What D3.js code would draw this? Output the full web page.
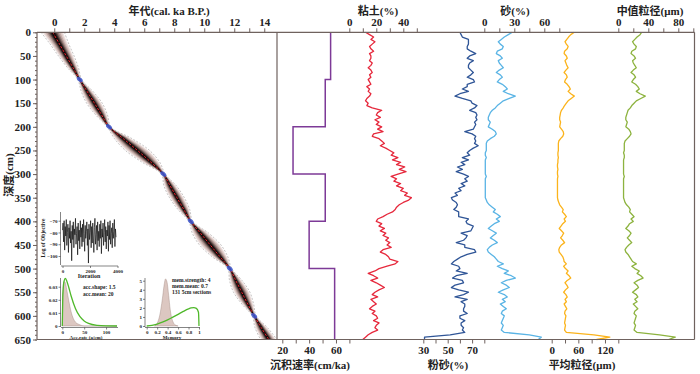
<!DOCTYPE html>
<html><head><meta charset="utf-8">
<script src="https://cdn.jsdelivr.net/npm/d3@7"></script>
<style>
body{margin:0;background:#fff}
svg{display:block}
text{font-family:"Liberation Serif","Noto Sans CJK SC",serif;font-weight:bold;fill:#222}
</style>
</head><body><svg id="c" width="700" height="374"></svg>
<script>
// ---------- DATA ----------
const depths = d3.range(0, 651, 5); // sample depths (cm), 131 sections

const clay = [12,15,18,16,19,17,15,16,18,15,16,16,15,17,16,14,16,17,15,16,14,15,16,13,15,14,16,15,13,12,14,13,17,24,21,20,23,19,22,20,24,21,25,18,17,22,24,26,23,27,30,33,31,36,32,38,35,41,37,42,36,31,35,33,38,35,40,38,43,41,46,44,40,37,35,34,32,28,25,21,20,24,22,26,23,27,25,29,27,30,28,31,25,23,27,29,30,36,34,28,22,19,14,18,21,16,20,23,26,22,19,17,21,16,18,20,17,15,19,17,20,21,18,22,20,19,21,17,14,12,10];

const sand = [28,24,20,17,14,16,19,18,13,12,16,18,14,15,17,19,15,12,16,18,15,13,18,21,23,19,24,31,25,19,16,13,11,8,6,5,4,4,6,5,4,8,11,12,10,6,3,2,2,2,2,1,1,2,1,1,1,1,1,1,1,2,1,1,1,1,1,1,1,1,1,2,3,5,8,11,9,13,16,12,15,10,7,4,8,12,9,6,10,13,8,5,3,4,7,10,12,14,19,13,18,24,20,27,31,22,17,22,25,19,14,20,23,18,21,16,19,22,18,17,20,19,18,17,19,18,17,20,45,57,54];

const silt = [60,61,62,67,67,67,66,66,69,73,68,66,71,68,67,67,69,71,69,66,71,72,66,66,62,67,60,56,62,69,70,74,72,68,73,74,73,74,72,73,72,71,64,70,73,72,73,72,75,71,68,66,68,62,67,61,64,58,62,57,63,67,64,66,61,64,59,61,56,58,53,54,57,58,57,55,59,59,59,67,65,66,71,70,69,61,66,65,63,57,64,64,72,73,66,61,58,55,53,59,60,57,66,57,54,62,63,56,53,59,67,63,56,66,61,64,64,63,63,66,60,60,64,61,61,63,62,64,52,31,31];

const meanSize = [51,43,38,34,30,33,37,35,29,28,33,35,30,32,34,37,32,28,33,35,31,29,35,39,42,37,43,51,44,37,33,29,26,22,20,19,18,18,20,19,18,22,26,27,25,20,16,15,15,15,15,14,14,15,14,14,13,13,14,13,13,14,13,13,13,13,13,13,13,13,13,14,16,18,22,26,24,29,33,28,31,25,21,17,22,27,24,20,25,29,22,18,16,17,21,25,27,28,33,27,31,37,33,39,43,35,30,34,37,31,27,32,35,30,33,28,31,34,30,29,32,31,30,29,31,30,29,33,95,131,101];

const medianSize = [31,29,25,22,19,21,24,23,18,17,21,23,19,20,22,24,20,17,21,23,20,18,23,26,28,24,29,36,30,24,21,18,16,13,12,11,10,10,12,11,10,14,16,17,15,12,9,8,8,8,8,7,8,8,7,7,7,7,7,7,7,8,7,7,7,7,7,7,7,7,7,8,9,11,14,16,15,18,21,17,20,15,13,10,14,17,15,12,15,18,14,11,9,10,13,15,17,19,24,18,22,28,25,30,33,26,21,25,27,23,19,24,26,22,25,20,23,26,22,21,24,23,22,21,23,22,21,25,55,76,67];

// sedimentation rate (cm/ka), step intervals
const sedTop = [0,100,200,300,400,500];
const sedBottom = [100,200,300,400,500,650];
const sedRate = [56,52,28,52,40,59];

// age-depth model
const ageDepth = [0,25,50,75,100,125,150,175,200,225,250,275,300,325,350,375,400,425,450,475,500,525,550,575,600,625,650];
const ageMedian = [-0.1,0.35,0.8,1.25,1.7,2.19,2.68,3.16,3.65,4.6,5.55,6.45,7.27,7.73,8.18,8.64,9.1,9.75,10.4,11.05,11.7,12.1,12.5,12.9,13.33,13.8,14.3];
const ageHalf = [0.6,0.48,0.4,0.28,0.1,0.3,0.4,0.3,0.1,0.45,0.62,0.45,0.1,0.32,0.38,0.3,0.1,0.42,0.55,0.4,0.1,0.32,0.42,0.3,0.1,0.32,0.42];
const dateDepth = [100,200,300,400,500,600];
const dateAge = [1.7,3.65,7.27,9.1,11.7,13.33];

// tick labels
const ageTicks = [0,2,4,6,8,10,12,14];
const depthTicks = [0,50,100,150,200,250,300,350,400,450,500,550,600,650];

// inset: MCMC trace (log of objective)
const trace = [-78,-72,-88,-70,-95,-75,-83,-69,-91,-80,-73,-97,-76,-85,-70,-89,-79,-104,-74,-86,-71,-93,-77,-82,-68,-90,-81,-75,-99,-72,-87,-78,-94,-70,-84,-76,-92,-73,-88,-69,-81,-96,-74,-85,-79,-71,-91,-77,-106,-73,-86,-80,-70,-93,-75,-89,-72,-83,-97,-76,-68,-90,-82,-74,-95,-71,-87,-79,-92,-73,-85,-70,-98,-77,-84,-72,-91,-80,-69,-88,-75,-94,-78,-83,-71,-96,-74,-86,-70,-90,-81,-76,-93,-72,-85,-79,-69,-92,-77,-84];
// inset: accumulation rate prior / posterior
const accX = [0,1,2,4,7,10,15,20,30,40,50,60,80,100,125];
const accPrior = [0,0.0215,0.0282,0.0343,0.0363,0.0346,0.0292,0.0231,0.0134,0.0073,0.0039,0.002,0.0005,0.0001,0];
const accPost = [0,0.02,0.03,0.034,0.033,0.028,0.019,0.011,0.003,0.001,0,0,0,0,0];
// inset: memory prior / posterior
const memX = [0,0.1,0.2,0.3,0.4,0.5,0.6,0.7,0.8,0.85,0.9,0.95,0.99,1];
const memPrior = [0,0.06,0.21,0.42,0.68,0.98,1.29,1.61,1.89,1.99,2.03,1.95,1.52,0];
const memPostX = [0.15,0.2,0.25,0.3,0.33,0.36,0.39,0.42,0.45,0.5,0.55,0.6];
const memPost = [0,0.3,1.2,3.0,4.4,5.2,4.8,3.4,1.8,0.5,0.1,0];

// ---------- DRAW ----------
const svg = d3.select("#c");
const frame = "#6f625e";
const TOP = 32.3, BOT = 339.5, L = 37, MID = 277, R = 694.5;
const y = d3.scaleLinear().domain([0,650]).range([TOP,BOT]);

const ageX = d3.scaleLinear().domain([-1.15,14.85]).range([L,MID]);
const sedX = d3.scaleLinear().domain([20,70]).range([282.3,349.4]);
const clayX = d3.scaleLinear().domain([0,50]).range([349.3,416.8]);
const siltX = d3.scaleLinear().domain([30,80]).range([423.3,484.3]);
const sandX = d3.scaleLinear().domain([0,75]).range([484.3,559.3]);
const meanX = d3.scaleLinear().domain([0,150]).range([551.7,618.3]);
const medX = d3.scaleLinear().domain([0,100]).range([618.3,693.3]);

svg.append("defs").append("clipPath").attr("id","lp")
  .append("rect").attr("x",L).attr("y",TOP).attr("width",MID-L).attr("height",BOT-TOP);

// --- age cloud ---
const g = svg.append("g").attr("clip-path","url(#lp)");
const idx = d3.range(ageDepth.length);
[[1.15,"#efe3e1",1],[1,"#dcc8c4",0.9],[0.82,"#bba39e",0.9],[0.64,"#8e7873",0.9],[0.47,"#5a4744",0.9],[0.32,"#2b1f1d",0.95],[0.18,"#0b0606",1]].forEach(([f,c,o])=>{
  g.append("path").datum(idx)
   .attr("d", d3.area().curve(d3.curveCatmullRom)
      .y(i=>y(ageDepth[i]))
      .x0(i=>ageX(ageMedian[i]-ageHalf[i]*f))
      .x1(i=>ageX(ageMedian[i]+ageHalf[i]*f)))
   .attr("fill",c).attr("fill-opacity",o);
});
[-1.3,1.3].forEach(s=>{
  g.append("path").datum(idx)
   .attr("d", d3.line().curve(d3.curveCatmullRom)
      .y(i=>y(ageDepth[i])).x(i=>ageX(ageMedian[i]+s*ageHalf[i])))
   .attr("fill","none").attr("stroke","#a09a9a").attr("stroke-width",0.6).attr("stroke-dasharray","2,1.5");
});
g.append("path").datum(idx)
  .attr("d", d3.line().curve(d3.curveCatmullRom).y(i=>y(ageDepth[i])).x(i=>ageX(ageMedian[i])))
  .attr("fill","none").attr("stroke","#e8202a").attr("stroke-width",1).attr("stroke-dasharray","2.5,1.5");
dateDepth.forEach((d,i)=>{
  g.append("ellipse").attr("cx",ageX(dateAge[i])).attr("cy",y(d))
   .attr("rx",3.5).attr("ry",2).attr("fill","#3a55d0").attr("fill-opacity",0.85)
   .attr("transform",`rotate(40,${ageX(dateAge[i])},${y(d)})`);
});

// --- right panel curves ---
const vline = (arr, sx, color) => svg.append("path").datum(arr)
  .attr("d", d3.line().x(v=>sx(v)).y((v,i)=>y(depths[i])))
  .attr("fill","none").attr("stroke",color).attr("stroke-width",1.3).attr("stroke-linejoin","round");

// sed rate step line
const sedPts = [];
sedRate.forEach((r,i)=>{ sedPts.push([r,sedTop[i]]); sedPts.push([r,sedBottom[i]]); });
svg.append("path").datum(sedPts)
  .attr("d", d3.line().x(p=>sedX(p[0])).y(p=>y(p[1])))
  .attr("fill","none").attr("stroke","#7d3a97").attr("stroke-width",1.5);

vline(clay, clayX, "#e6283c");
vline(silt, siltX, "#2f5597");
vline(sand, sandX, "#5ab4e5");
vline(meanSize, meanX, "#fbb31b");
vline(medianSize, medX, "#8db33f");

// --- frame ---
const fr = svg.append("g").attr("stroke",frame).attr("stroke-width",1.2).attr("fill","none");
fr.append("line").attr("x1",L).attr("x2",R).attr("y1",TOP).attr("y2",TOP);
fr.append("line").attr("x1",L).attr("x2",R).attr("y1",BOT).attr("y2",BOT);
fr.append("line").attr("x1",L).attr("x2",L).attr("y1",TOP).attr("y2",BOT);
fr.append("line").attr("x1",MID).attr("x2",MID).attr("y1",TOP).attr("y2",BOT);
fr.append("line").attr("x1",R).attr("x2",R).attr("y1",TOP).attr("y2",BOT);

function styleAxis(sel, fs){
  sel.select(".domain").remove();
  sel.selectAll(".tick line").attr("stroke",frame).attr("stroke-width",1);
  sel.selectAll(".tick text").attr("font-size",fs).attr("font-family",null).style("font-weight","bold").attr("fill","#222");
}
function topAxis(sx, all, labels){
  const a = svg.append("g").attr("transform",`translate(0,${TOP})`)
    .call(d3.axisTop(sx).tickValues(all).tickSize(4).tickPadding(2).tickFormat(d=>labels.includes(d)?d:""));
  styleAxis(a, 11);
}
function botAxis(sx, all, labels){
  const a = svg.append("g").attr("transform",`translate(0,${BOT})`)
    .call(d3.axisBottom(sx).tickValues(all).tickSize(4).tickPadding(3).tickFormat(d=>labels.includes(d)?d:""));
  styleAxis(a, 11);
}
topAxis(ageX, d3.range(0,15,1), ageTicks);
topAxis(clayX, [0,10,20,30,40,50], [0,20,40]);
topAxis(sandX, [0,15,30,45,60,75], [0,30,60]);
topAxis(medX, [0,20,40,60,80,100], [0,40,80]);
botAxis(sedX, [20,30,40,50,60,70], [20,40,60]);
botAxis(siltX, [30,40,50,60,70,80], [30,50,70]);
botAxis(meanX, [0,30,60,90,120,150], [0,60,120]);

// left depth axis
const la = svg.append("g").attr("transform",`translate(${L},0)`)
  .call(d3.axisLeft(y).tickValues(depthTicks).tickSize(4).tickPadding(2));
styleAxis(la, 11);
svg.append("g").attr("transform",`translate(${L},0)`)
  .call(d3.axisLeft(y).tickValues(d3.range(0,651,10)).tickSize(2).tickFormat(""))
  .call(s=>{s.select(".domain").remove(); s.selectAll("line").attr("stroke",frame);});

// titles
const title = (t,x,yy,fs=11)=>svg.append("text").attr("x",x).attr("y",yy).attr("text-anchor","middle").attr("font-size",fs).text(t);
title("年代(cal. ka B.P.)",169,15);
title("粘土(%)",378,15);
title("砂(%)",515,15);
title("中值粒径(μm)",650,15);
title("沉积速率(cm/ka)",310,369);
title("粉砂(%)",448,369);
title("平均粒径(μm)",582,369);
svg.append("text").attr("transform","translate(13,175) rotate(-90)").attr("text-anchor","middle").attr("font-size",11).text("深度(cm)");

// ---------- INSETS ----------
const fs = 5;
function smallAxis(sel){
  sel.select(".domain").attr("stroke","#333").attr("stroke-width",0.6);
  sel.selectAll(".tick line").attr("stroke","#333").attr("stroke-width",0.6);
  sel.selectAll(".tick text").attr("font-size",fs).attr("font-family",null).style("font-weight","bold");
}
const plain = d3.format("");
// trace
const tX = d3.scaleLinear().domain([0,trace.length-1]).range([62.5,116]);
const tXa = d3.scaleLinear().domain([0,4000]).range([62.5,117.5]);
const tY = d3.scaleLinear().domain([-70,-100]).range([220.7,256]);
svg.append("path").datum(trace).attr("d",d3.line().x((v,i)=>tX(i)).y(v=>tY(v)))
  .attr("fill","none").attr("stroke","#111").attr("stroke-width",0.7);
svg.append("g").attr("transform","translate(60.5,0)")
  .call(d3.axisLeft(tY).tickValues([-70,-80,-90,-100]).tickSize(2).tickPadding(1).tickFormat(plain)).call(smallAxis)
  .select(".domain").attr("d","M-0,212V265");
svg.append("g").attr("transform","translate(0,266)")
  .call(d3.axisBottom(tXa).tickValues([0,2000,4000]).tickSize(2).tickPadding(1).tickFormat(plain)).call(smallAxis)
  .select(".domain").attr("d","M61,0H118");
svg.append("text").attr("x",89).attr("y",278).attr("text-anchor","middle").attr("font-size",6).text("Iteration");
svg.append("text").attr("transform","translate(45,238) rotate(-90)").attr("text-anchor","middle").attr("font-size",5.5).text("Log of Objective");

// acc rate
const aX = d3.scaleLinear().domain([0,125]).range([62.3,117]);
const aY = d3.scaleLinear().domain([0,0.03]).range([326,286.7]);
svg.append("path").datum(d3.range(accX.length))
  .attr("d",d3.area().x(i=>aX(accX[i])).y0(aY(0)).y1(i=>aY(accPost[i])).curve(d3.curveMonotoneX))
  .attr("fill","#dcc7c1").attr("stroke","#9a817a").attr("stroke-width",0.4);
svg.append("path").datum(d3.range(accX.length))
  .attr("d",d3.line().x(i=>aX(accX[i])).y(i=>aY(accPrior[i])).curve(d3.curveMonotoneX))
  .attr("fill","none").attr("stroke","#4fb82a").attr("stroke-width",1.3);
svg.append("g").attr("transform","translate(60.5,0)")
  .call(d3.axisLeft(aY).tickValues([0,0.01,0.02,0.03]).tickSize(2).tickPadding(1).tickFormat(plain)).call(smallAxis)
  .select(".domain").attr("d","M0,278V327");
svg.append("g").attr("transform","translate(0,327.5)")
  .call(d3.axisBottom(aX).tickValues([0,50,100]).tickSize(2).tickPadding(0.5).tickFormat(plain)).call(smallAxis)
  .select(".domain").attr("d","M61,0H118");
svg.append("text").attr("x",86).attr("y",339).attr("text-anchor","middle").attr("font-size",5).text("Acc.rate (a/cm)");
svg.append("text").attr("x",83).attr("y",289).attr("font-size",5.5).text("acc.shape: 1.5");
svg.append("text").attr("x",83).attr("y",295.5).attr("font-size",5.5).text("acc.mean: 20");

// memory
const mX = d3.scaleLinear().domain([0,1]).range([146.7,199]);
const mY = d3.scaleLinear().domain([0,5]).range([326,280.7]);
svg.append("path").datum(d3.range(memPostX.length))
  .attr("d",d3.area().x(i=>mX(memPostX[i])).y0(mY(0)).y1(i=>mY(memPost[i])).curve(d3.curveMonotoneX))
  .attr("fill","#dcc7c1").attr("stroke","#9a817a").attr("stroke-width",0.4);
svg.append("path").datum(d3.range(memX.length))
  .attr("d",d3.line().x(i=>mX(memX[i])).y(i=>mY(memPrior[i])).curve(d3.curveMonotoneX))
  .attr("fill","none").attr("stroke","#4fb82a").attr("stroke-width",1.3);
svg.append("g").attr("transform","translate(145,0)")
  .call(d3.axisLeft(mY).tickValues([0,1,2,3,4,5]).tickSize(2).tickPadding(1).tickFormat(plain)).call(smallAxis)
  .select(".domain").attr("d","M0,278V327");
svg.append("g").attr("transform","translate(0,327.5)")
  .call(d3.axisBottom(mX).tickValues([0,0.2,0.4,0.6,0.8,1]).tickSize(2).tickPadding(0.5).tickFormat(plain)).call(smallAxis)
  .select(".domain").attr("d","M145,0H200");
svg.append("text").attr("x",172).attr("y",339).attr("text-anchor","middle").attr("font-size",5).text("Memory");
svg.append("text").attr("x",172).attr("y",282).attr("font-size",5.5).text("mem.strength: 4");
svg.append("text").attr("x",172).attr("y",288).attr("font-size",5.5).text("mem.mean: 0.7");
svg.append("text").attr("x",172).attr("y",294).attr("font-size",5.5).text("131 5cm sections");
</script>
</body></html>
